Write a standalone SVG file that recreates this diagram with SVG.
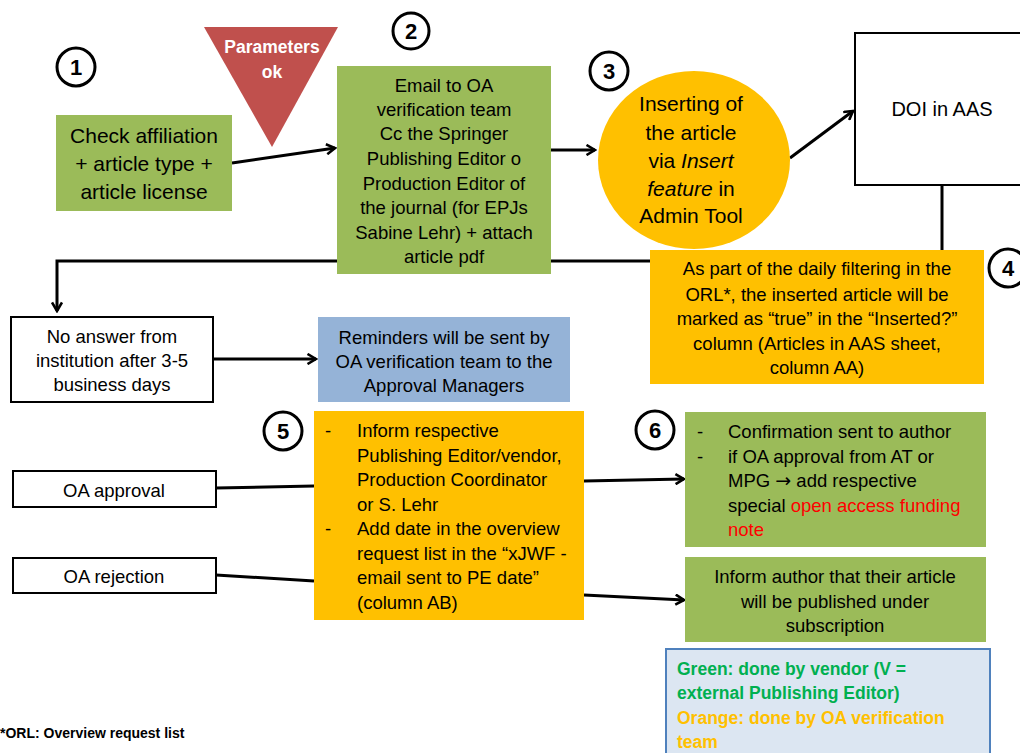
<svg xmlns="http://www.w3.org/2000/svg" width="1020" height="753" viewBox="0 0 1020 753">
<defs>
<style>
text{font-family:"Liberation Sans",Arial,sans-serif;fill:#000}
.t{font-size:18.5px}
.tl{font-size:21px}
.c{text-anchor:middle}
.num{font-size:22px;font-weight:bold;text-anchor:middle}
.ring{fill:#fff;stroke:#000;stroke-width:3}
.green{fill:#9BBB59}
.orange{fill:#FFC000}
.wbox{fill:#fff;stroke:#000;stroke-width:2}
.conn{fill:none;stroke:#000;stroke-width:3}
.leg{font-size:17.5px;font-weight:bold}
.red{fill:#FF0000}
</style>
<marker id="ah" markerWidth="12" markerHeight="12" refX="10" refY="6" orient="auto" markerUnits="userSpaceOnUse" viewBox="0 0 12 12">
<path d="M1.5,1 L10,6 L1.5,11" fill="none" stroke="#000" stroke-width="2.6"/>
</marker>
</defs>
<rect width="1020" height="753" fill="#fff"/>

<g id="connectors">
<path class="conn" d="M650,261 L57,261 L57,311" marker-end="url(#ah)"/>
<path class="conn" d="M232,163 L335,148" marker-end="url(#ah)"/>
<path class="conn" d="M551,150 L595,150" marker-end="url(#ah)"/>
<path class="conn" d="M790,158 L853,111" marker-end="url(#ah)"/>
<path class="conn" d="M942,185 L942,250"/>
<path class="conn" d="M213,359 L316,359" marker-end="url(#ah)"/>
<path class="conn" d="M216,488 L314,486"/>
<path class="conn" d="M216,575 L314,581"/>
<path class="conn" d="M584,481 L684,479" marker-end="url(#ah)"/>
<path class="conn" d="M584,595 L684,600" marker-end="url(#ah)"/>
</g>

<g id="step1">
<circle class="ring" cx="76" cy="67" r="19"/>
<text class="num" x="76" y="75">1</text>
</g>
<g id="parameters">
<polygon points="204,27 338,27 272,147" fill="#C0504D"/>
<text x="272" y="53" class="c" style="font-size:17.5px;font-weight:bold;fill:#fff">Parameters</text>
<text x="272" y="78" class="c" style="font-size:17.5px;font-weight:bold;fill:#fff">ok</text>
</g>
<g id="check">
<rect class="green" x="56" y="115" width="176" height="96"/>
<text class="tl c" x="144" y="142.5">Check affiliation</text>
<text class="tl c" x="144" y="170.5">+ article type +</text>
<text class="tl c" x="144" y="198.5">article license</text>
</g>

<g id="step2">
<circle class="ring" cx="411" cy="31" r="18"/>
<text class="num" x="411" y="39">2</text>
</g>
<g id="email">
<rect class="green" x="337" y="66" width="214" height="208"/>
<text class="t c" x="444" y="91.5">Email to OA</text>
<text class="t c" x="444" y="115.5">verification team</text>
<text class="t c" x="444" y="139.5">Cc the Springer</text>
<text class="t c" x="444" y="164.5">Publishing Editor o</text>
<text class="t c" x="444" y="189.5">Production Editor of</text>
<text class="t c" x="444" y="213.5">the journal (for EPJs</text>
<text class="t c" x="444" y="238.5">Sabine Lehr) + attach</text>
<text class="t c" x="444" y="262.5">article pdf</text>
</g>

<g id="step3">
<circle class="ring" cx="609" cy="71" r="19"/>
<text class="num" x="609" y="79">3</text>
</g>
<g id="inserting">
<ellipse class="orange" cx="694" cy="160" rx="96" ry="89"/>
<text class="tl c" x="691" y="110.5">Inserting of</text>
<text class="tl c" x="691" y="139.5">the article</text>
<text class="tl c" x="691" y="167.5">via <tspan font-style="italic">Insert</tspan></text>
<text class="tl c" x="691" y="195.5"><tspan font-style="italic">feature</tspan> in</text>
<text class="tl c" x="691" y="222.5">Admin Tool</text>
</g>

<g id="doi">
<rect class="wbox" x="855" y="33" width="180" height="152"/>
<text class="c" x="942" y="116" style="font-size:20px">DOI in AAS</text>
</g>

<g id="step4">
<circle class="ring" cx="1008" cy="268" r="19"/>
<text class="num" x="1008" y="276">4</text>
</g>
<g id="filtering">
<rect class="orange" x="650" y="250" width="334" height="134"/>
<text class="t c" x="817" y="274.5">As part of the daily filtering in the</text>
<text class="t c" x="817" y="300.5">ORL*, the inserted article will be</text>
<text class="t c" x="817" y="324.5">marked as “true” in the “Inserted?”</text>
<text class="t c" x="817" y="349.5">column (Articles in AAS sheet,</text>
<text class="t c" x="817" y="373.5">column AA)</text>
</g>

<g id="noanswer">
<rect class="wbox" x="11" y="317" width="202" height="85"/>
<text class="t c" x="112" y="342.5">No answer from</text>
<text class="t c" x="112" y="366.5">institution after 3-5</text>
<text class="t c" x="112" y="390.5">business days</text>
</g>
<g id="reminders">
<rect x="318" y="317" width="252" height="85" fill="#95B3D7"/>
<text class="t c" x="444" y="343.5">Reminders will be sent by</text>
<text class="t c" x="444" y="367.5">OA verification team to the</text>
<text class="t c" x="444" y="391.5">Approval Managers</text>
</g>

<g id="approval">
<rect class="wbox" x="13" y="471" width="203" height="36"/>
<text class="t c" x="114" y="496.5">OA approval</text>
</g>
<g id="rejection">
<rect class="wbox" x="13" y="558" width="203" height="35"/>
<text class="t c" x="114" y="582.5">OA rejection</text>
</g>

<g id="step5">
<circle class="ring" cx="283" cy="431" r="19"/>
<text class="num" x="283" y="439">5</text>
</g>
<g id="inform">
<rect class="orange" x="314" y="411" width="270" height="209"/>
<text class="t" x="325" y="436.5">-</text>
<text class="t" x="357" y="436.5">Inform respective</text>
<text class="t" x="357" y="461.5">Publishing Editor/vendor,</text>
<text class="t" x="357" y="485.5">Production Coordinator</text>
<text class="t" x="357" y="510.5">or S. Lehr</text>
<text class="t" x="325" y="534.5">-</text>
<text class="t" x="357" y="534.5">Add date in the overview</text>
<text class="t" x="357" y="559.5">request list in the “xJWF -</text>
<text class="t" x="357" y="583.5">email sent to PE date”</text>
<text class="t" x="357" y="608.5">(column AB)</text>
</g>

<g id="step6">
<circle class="ring" cx="655" cy="430" r="19"/>
<text class="num" x="655" y="438">6</text>
</g>
<g id="confirmation">
<rect class="green" x="685" y="412" width="301" height="135"/>
<text class="t" x="697" y="437.5">-</text>
<text class="t" x="728" y="437.5">Confirmation sent to author</text>
<text class="t" x="697" y="462.5">-</text>
<text class="t" x="728" y="462.5">if OA approval from AT or</text>
<text class="t" x="728" y="486.5">MPG <tspan style="font-family:'DejaVu Sans',sans-serif;font-size:19px">→</tspan> add respective</text>
<text class="t" x="728" y="511.5">special <tspan class="red">open access funding</tspan></text>
<text class="t red" x="728" y="535.5">note</text>
</g>
<g id="subscription">
<rect class="green" x="685" y="557" width="301" height="85"/>
<text class="t c" x="835" y="582.5">Inform author that their article</text>
<text class="t c" x="835" y="607.5">will be published under</text>
<text class="t c" x="835" y="631.5">subscription</text>
</g>

<g id="legend">
<rect x="666" y="649" width="324" height="120" fill="#DCE6F2" stroke="#4F81BD" stroke-width="2"/>
<text class="leg" x="677" y="675" style="fill:#00B050">Green: done by vendor (V =</text>
<text class="leg" x="677" y="699" style="fill:#00B050">external Publishing Editor)</text>
<text class="leg" x="677" y="724" style="fill:#FFC000">Orange: done by OA verification</text>
<text class="leg" x="677" y="748" style="fill:#FFC000">team</text>
</g>

<g id="footnote">
<text x="0" y="738" style="font-size:14px;font-weight:bold">*ORL: Overview request list</text>
</g>
</svg>
